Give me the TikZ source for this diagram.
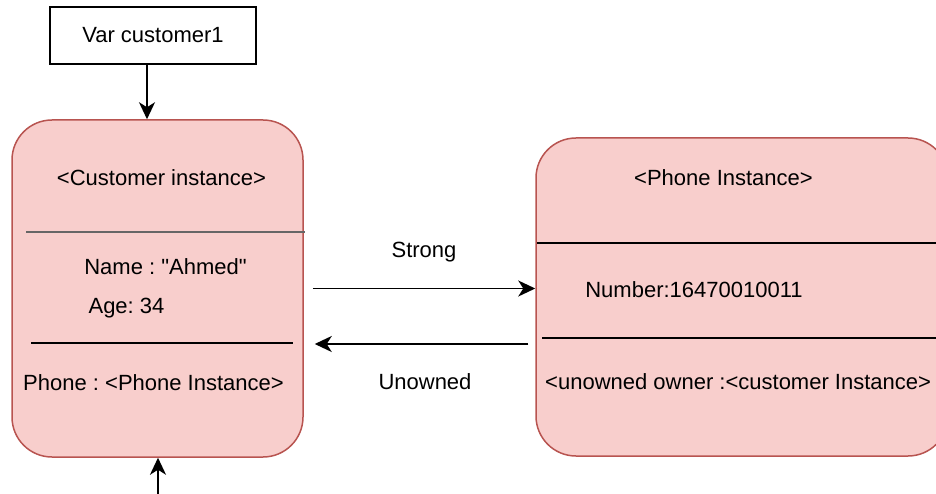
\documentclass[tikz,border=0pt]{standalone}
\usepackage{fontspec}
\setmainfont{Liberation Sans}
\usetikzlibrary{arrows.meta,calc}
\definecolor{boxfill}{HTML}{F8CECC}
\definecolor{boxline}{HTML}{B85450}
\definecolor{softgray}{HTML}{666666}
\frenchspacing
\begin{document}
\begin{tikzpicture}[x=1pt,y=-1pt,
  lbl/.style={font=\fontsize{22}{26}\selectfont, inner sep=0pt, anchor=center},
  instance/.style={draw=boxline, fill=boxfill, line width=1.5pt, rounded corners=40pt, inner sep=0pt},
  varbox/.style={draw=black, line width=1.7pt, inner sep=0pt},
  divider/.style={line width=1.7pt},
  link/.style={line width=1.8pt, -{Stealth[length=17pt,width=16pt,inset=5pt]}}]
\useasboundingbox (0,0) rectangle (936,494);
\clip (0,0) rectangle (936,494);

% variable reference box
\node[varbox, minimum width=206pt, minimum height=57pt] (var) at (153,35.5) {};
\node[lbl] (varlbl) at (var.center) {Var customer1};

% customer instance
\node[instance, minimum width=291pt, minimum height=337pt] (customer) at (157.5,288.5) {};
\node[lbl] (ctitle) at (161.5,178) {<Customer instance>};
\draw[divider, softgray, line width=2.4pt] (26,232) -- (305,232);
\node[lbl] (cname) at (165.5,267) {Name : \textquotedbl Ahmed\textquotedbl};
\node[lbl] (cage) at (126.5,308) {Age: 34};
\draw[divider] (31,343) -- (293,343);
\node[lbl] (cphone) at (153.5,383) {Phone : <Phone Instance>};

% phone instance
\node[instance, minimum width=412pt, minimum height=318pt] (phone) at (742,297) {};
\node[lbl] (ptitle) at (723.5,178) {<Phone Instance>};
\draw[divider] (537,243) -- (940,243);
\node[lbl] (pnum) at (694,290) {Number:16470010011};
\draw[divider] (542,338) -- (940,338);
\node[lbl, anchor=west] (powner) at (545,382) {<unowned owner :<customer Instance>};

% references
\draw[link] ([xshift=-6pt]var.south) -- ([xshift=-6pt]var.south |- customer.north);
\coordinate (incoming) at (158,494);
\draw[link] (incoming) -- (incoming |- customer.south);

\draw[link] ([xshift=9pt]customer.east) -- (phone.west |- customer.east);
\node[lbl] (strong) at (424,252) {Strong};
\draw[link] ($(phone.west |- 0,344)+(-7,0)$) -- ($(customer.east |- 0,344)+(11,0)$);
\node[lbl] (unowned) at (425,382) {Unowned};
\end{tikzpicture}
\end{document}
